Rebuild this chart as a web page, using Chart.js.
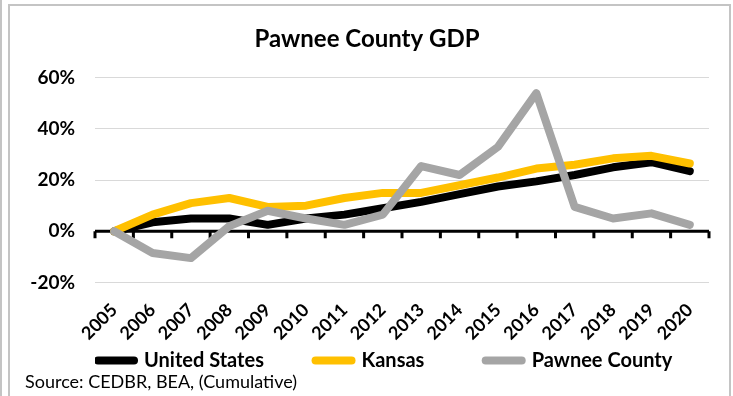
<!DOCTYPE html>
<html>
	<head>
		<meta charset="UTF-8">
		<style>
			body { margin: 0; background: #fff; }
			#wrap { position: relative; width: 733px; height: 396px; }
			#wrap::before { content: ''; position: absolute; left: 8px; top: 4px; right: 2px; bottom: -10px; border: 2px solid #c4c4c4; pointer-events: none; }
			#wrap::after { content: ''; position: absolute; left: 0; top: 0; width: 2px; height: 396px; background: #c4c4c4; }
		</style>
	</head>
	<script src="https://cdn.jsdelivr.net/npm/chart.js@4/dist/chart.umd.min.js"></script>
	<body>
		<div id="wrap"><canvas id="myChart"></canvas></div>
		<script>
			// cumulative GDP change, %
			const years = ['2005','2006','2007','2008','2009','2010','2011','2012','2013','2014','2015','2016','2017','2018','2019','2020'];
			const unitedStates = [0, 3.5, 5, 5, 2.5, 5, 6.5, 9, 11.5, 14.5, 17.5, 19.5, 22, 25, 27, 23.5];
			const kansas = [0, 6.5, 11, 13, 9.5, 10, 13, 15, 15, 18, 21, 24.5, 26, 28.5, 29.5, 26.5];
			const pawnee = [0, -8.5, -10.5, 2, 8, 5, 2.5, 6.5, 25.5, 22, 33, 54, 9.5, 5, 7, 2.5];
			const yTicks = [-20, 0, 20, 40, 60];

			// black 0% axis with tick marks between categories
			const zeroAxis = {
				id: 'zeroAxis',
				beforeDatasetsDraw(chart) {
					const ctx = chart.ctx;
					const x = chart.scales.x;
					const y0 = chart.scales.y.getPixelForValue(0);
					ctx.save();
					ctx.strokeStyle = '#000';
					ctx.lineWidth = 3;
					ctx.beginPath();
					ctx.moveTo(chart.chartArea.left, y0);
					ctx.lineTo(chart.chartArea.right, y0);
					for (let i = 0; i <= years.length; i++) {
						const px = x.getPixelForValue(i - 0.5);
						ctx.moveTo(px, y0);
						ctx.lineTo(px, y0 + 7);
					}
					ctx.stroke();
					ctx.restore();
				}
			};

			const lineSet = (label, data, color, order) => ({
				label: label,
				data: data,
				borderColor: color,
				backgroundColor: color,
				borderWidth: 8,
				borderCapStyle: 'round',
				borderJoinStyle: 'round',
				pointRadius: 0,
				tension: 0,
				fill: false,
				order: order
			});

			// trailing spaces to spread the legend items like the original
			const legendGap = ['          ', '            ', ''];

			new Chart('myChart', {
				type: 'line',
				data: {
					labels: years,
					datasets: [
						lineSet('United States', unitedStates, '#000000', 3),
						lineSet('Kansas', kansas, '#FFC000', 2),
						lineSet('Pawnee County', pawnee, '#A5A5A5', 1)
					]
				},
				plugins: [zeroAxis],
				options: {
					responsive: true,
					maintainAspectRatio: false,
					animation: false,
					layout: { padding: { left: 25, right: 24, top: 0, bottom: 0 } },
					plugins: {
						title: {
							display: true,
							text: 'Pawnee County GDP',
							color: '#000',
							font: { family: 'Lato', size: 24, weight: 'bold' },
							padding: { top: 25, bottom: 24 }
						},
						subtitle: {
							display: true,
							position: 'bottom',
							align: 'start',
							text: 'Source: CEDBR, BEA, (Cumulative)',
							color: '#000',
							font: { family: 'Lato', size: 18 },
							padding: { top: 0, bottom: 3 }
						},
						legend: {
							position: 'bottom',
							align: 'start',
							fullSize: false,
							maxHeight: 24,
							labels: {
								color: '#000',
								font: { family: 'Lato', size: 20, weight: 'bold' },
								usePointStyle: true,
								pointStyle: 'line',
								pointStyleWidth: 36,
								padding: 3,
								sort: (a, b) => a.datasetIndex - b.datasetIndex,
								generateLabels: (chart) => Chart.defaults.plugins.legend.labels.generateLabels(chart).map(l => {
									l.text = l.text + legendGap[l.datasetIndex];
									l.lineCap = 'round';
									return l;
								})
							}
						},
						tooltip: { enabled: false }
					},
					scales: {
						x: {
							offset: true,
							grid: { display: false },
							border: { display: false },
							ticks: {
								color: '#000',
								font: { family: 'Lato', size: 18, weight: 'bold' },
								minRotation: 45,
								maxRotation: 45,
								autoSkip: false,
								padding: 9
							},
							afterFit: (scale) => {
								scale.height = 65;
								scale.paddingLeft = 0;
								scale.paddingRight = 0;
							}
						},
						y: {
							min: -20,
							max: 60,
							afterBuildTicks: (scale) => { scale.ticks = yTicks.map(v => ({ value: v })); },
							grid: { color: '#d9d9d9', lineWidth: 1, drawTicks: false },
							border: { display: false },
							ticks: {
								color: '#000',
								font: { family: 'Lato', size: 19, weight: 'bold' },
								padding: 20,
								callback: (v) => v + '%'
							},
							afterFit: (scale) => { scale.width = 70; }
						}
					}
				}
			});
		</script>
	</body>
</html>
